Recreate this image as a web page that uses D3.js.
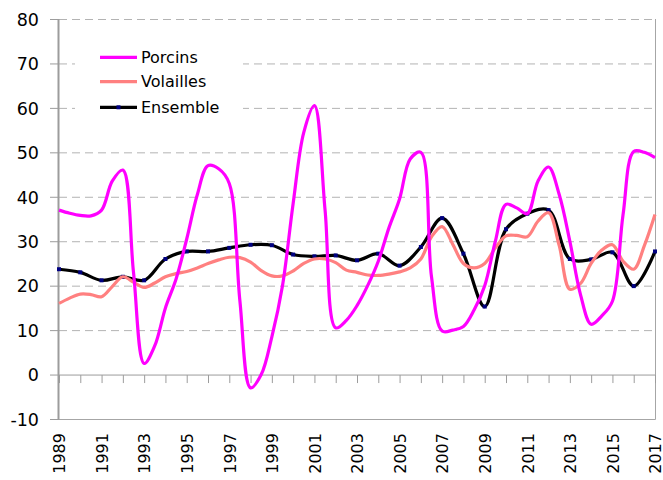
<html>
<head>
	<meta charset="utf-8">
	<script src="https://d3js.org/d3.v7.min.js"></script>
	<style>
		body {
			margin: 0;
			background: #fff;
		}
		text {
			font-family: "DejaVu Sans", Verdana, sans-serif;
			fill: #000;
		}
		.grid line {
			stroke: #b3b3b3;
			stroke-dasharray: 8, 5;
		}
		.axis path {
			display: none;
		}
		.axis line {
			stroke: #9c9c9c;
		}
		.series {
			fill: none;
			stroke-width: 3.2;
			stroke-linejoin: round;
		}
	</style>
</head>
<body>
	<script>

		// annual years (Ensemble) and half-year steps (Porcins, Volailles)
		var years = d3.range(1989, 2018);
		var halfYears = d3.range(1989, 2017.01, 0.5);

		var porcins = [37.0, 36.3, 35.8, 35.7, 37.0, 43.5, 46.0, 23.0, 2.5, 6.5,
			15.0, 21.5, 30.5, 40.5, 47.0, 46.3, 43.0, 16.5, -3.0, 0.0,
			8.5, 20.0, 38.5, 54.5, 60.5, 37.0, 10.5, 12.2, 15.5, 20.0,
			25.5, 33.0, 39.5, 48.5, 50.0, 22.0, 9.8, 10.0, 10.8, 14.5,
			20.0, 30.0, 38.3, 37.5, 36.2, 43.5, 46.7, 40.5, 30.0, 18.0,
			11.3, 13.2, 16.5, 36.0, 50.2, 50.0, 48.8];

		var volailles = [16.0, 17.2, 18.1, 18.0, 17.5, 19.8, 22.0, 20.8, 19.6, 20.6,
			22.0, 22.7, 23.2, 24.0, 25.0, 25.8, 26.4, 26.3, 25.3, 23.4,
			22.2, 22.2, 23.3, 25.0, 26.0, 26.0, 25.2, 23.5, 23.0, 22.4,
			22.3, 22.6, 23.1, 24.0, 26.0, 31.0, 33.3, 29.3, 25.0, 24.0,
			25.0, 28.5, 31.2, 31.3, 31.0, 34.5, 36.4, 29.0, 19.2, 20.5,
			25.0, 28.0, 29.2, 25.5, 23.7, 29.0, 36.0];

		var ensemble = [23.7, 23.0, 21.2, 22.0, 21.2, 26.0, 27.7, 27.7, 28.5, 29.2,
			29.1, 27.0, 26.6, 26.8, 25.7, 27.2, 24.5, 28.7, 35.2, 27.2,
			15.3, 32.7, 36.2, 37.0, 26.0, 25.9, 27.5, 19.9, 27.7];

		var yTicks = d3.range(-10, 81, 10);
		var legendNames = ["Porcins", "Volailles", "Ensemble"];
		var colors = ["#ff00ff", "#ff8080", "#000000"];

		var width = 663,
		height = 480;

		var svg = d3.select("body").append("svg")
		.attr("width", width)
		.attr("height", height);

		var x = d3.scaleLinear()
		.domain([1989, 2017])
		.range([59, 655]);

		var y = d3.scaleLinear()
		.domain([-10, 80])
		.range([419, 19]);

		// dashed gridlines
		svg.append("g")
		.attr("class", "grid")
		.selectAll("line")
		.data(yTicks.filter(function(d) { return d > 0; }))
		.enter().append("line")
		.attr("x1", x(1989))
		.attr("x2", x(2017))
		.attr("y1", function(d) { return y(d) + 0.5; })
		.attr("y2", function(d) { return y(d) + 0.5; });

		// plot frame: right and bottom
		svg.append("path")
		.attr("d", "M" + (x(2017) + 0.5) + "," + y(80) + "V" + (y(-10) + 0.5) + "H" + x(1989))
		.attr("fill", "none")
		.attr("stroke", "#a6a6a6");

		// y axis
		var yAxis = svg.append("g")
		.attr("class", "axis")
		.attr("transform", "translate(" + x(1989) + ",0)")
		.call(d3.axisLeft(y).tickValues(yTicks).tickSize(9).tickPadding(11)
			.tickFormat(function(d) { return String(d); }));

		yAxis.selectAll("text")
		.style("font-size", "17.5px")
		.style("font-family", "'DejaVu Sans', Verdana, sans-serif")
		.attr("dy", "0.36em");

		svg.append("line")
		.attr("x1", x(1989) - 0.5)
		.attr("x2", x(1989) - 0.5)
		.attr("y1", y(80))
		.attr("y2", y(-10) + 1)
		.attr("stroke", "#9c9c9c")
		.attr("stroke-width", 2);

		// x axis on the zero line
		var xAxis = svg.append("g")
		.attr("class", "axis")
		.attr("transform", "translate(0," + (y(0) + 0.5) + ")")
		.call(d3.axisBottom(x).tickValues(years).tickSize(8)
			.tickFormat(function(d) { return (d - 1989) % 2 == 0 ? d : ""; }));

		xAxis.selectAll("text")
		.style("font-size", "16px")
		.style("font-family", "'DejaVu Sans', Verdana, sans-serif")
		.style("text-anchor", "end")
		.attr("transform", "rotate(-90)")
		.attr("x", -58)
		.attr("y", 0)
		.attr("dy", "0.36em");

		svg.append("line")
		.attr("x1", x(1989))
		.attr("x2", x(2017))
		.attr("y1", y(0) + 0.5)
		.attr("y2", y(0) + 0.5)
		.attr("stroke", "#9c9c9c");

		var line = d3.line()
		.x(function(d) { return x(d[0]); })
		.y(function(d) { return y(d[1]); })
		.curve(d3.curveCatmullRom.alpha(0.5));

		// Ensemble first, Porcins on top
		svg.append("path")
		.attr("class", "series")
		.attr("stroke", colors[2])
		.attr("stroke-width", 3.5)
		.attr("d", line(d3.zip(years, ensemble)));

		svg.selectAll(".marker")
		.data(d3.zip(years, ensemble))
		.enter().append("rect")
		.attr("class", "marker")
		.attr("x", function(d) { return x(d[0]) - 2; })
		.attr("y", function(d) { return y(d[1]) - 2; })
		.attr("width", 4)
		.attr("height", 4)
		.attr("fill", "#000080");

		svg.append("path")
		.attr("class", "series")
		.attr("stroke", colors[1])
		.attr("d", line(d3.zip(halfYears, volailles)));

		svg.append("path")
		.attr("class", "series")
		.attr("stroke", colors[0])
		.attr("d", line(d3.zip(halfYears, porcins)));

		// legend
		var legend = svg.append("g")
		.attr("transform", "translate(75,35)");

		legend.append("rect")
		.attr("width", 168)
		.attr("height", 90)
		.attr("fill", "#fff");

		var item = legend.selectAll(".item")
		.data(legendNames)
		.enter().append("g")
		.attr("class", "item")
		.attr("transform", function(d, i) { return "translate(0," + [22.3, 46.7, 72.3][i] + ")"; });

		item.append("line")
		.attr("x1", 25)
		.attr("x2", 62)
		.attr("stroke", function(d, i) { return colors[i]; })
		.attr("stroke-width", 3.2);

		item.filter(function(d) { return d == "Ensemble"; })
		.append("rect")
		.attr("x", 41.5)
		.attr("y", -2)
		.attr("width", 4)
		.attr("height", 4)
		.attr("fill", "#000080");

		item.append("text")
		.attr("x", 66)
		.attr("dy", "0.36em")
		.style("font-size", "16px")
		.text(function(d) { return d; });

	</script>
</body>
</html>
